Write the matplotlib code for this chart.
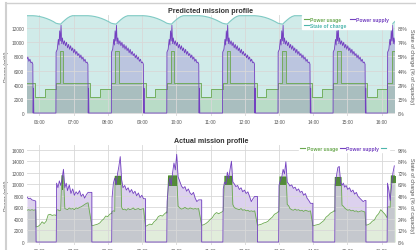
import numpy as np
import matplotlib
matplotlib.use("Agg")
import matplotlib.pyplot as plt
from matplotlib.lines import Line2D

plt.rcParams["font.family"] = ["Liberation Sans", "DejaVu Sans"]

# ---- x axis (hours of the day) ----
hour_ticks = [6, 7, 8, 9, 10, 11, 12, 13, 14, 15, 16]
hour_labels = ["06:00", "07:00", "08:00", "09:00", "10:00", "11:00",
               "12:00", "13:00", "14:00", "15:00", "16:00"]
x_range = (5.635, 16.39)

# ---- predicted mission profile: one orbit, repeated at each sunrise ----
pred_sunrise = [4.87, 6.48, 8.10, 9.72, 11.35, 12.97, 14.58, 16.17]

pred_sup_t = [0, 0.005, 0.04, 0.07, 0.09, 0.11, 0.13, 0.15, 0.17, 0.19, 0.22, 0.25,
              0.28, 0.31, 0.34, 0.37, 0.40, 0.43, 0.46, 0.49, 0.52, 0.55, 0.58, 0.61,
              0.64, 0.67, 0.70, 0.73, 0.76, 0.79, 0.82, 0.85, 0.88, 0.91, 0.935,
              0.945, 0.955, 0.965, 0.975]
pred_sup_v = [0, 8600, 9000, 10400, 9600, 11600, 10200, 12400, 9800, 10600, 9700, 10200,
              9500, 10000, 9200, 9700, 9000, 9500, 8800, 9200, 8500, 9000, 8300, 8700,
              8100, 8400, 7800, 8200, 7600, 7900, 7300, 7600, 7100, 7200, 6900,
              0, 3500, 0, 0]

pred_use_t = [0, 0, 0.12, 0.12, 0.22, 0.22, 1.0, 1.0, 1.28, 1.28]
pred_use_v = [3400, 4300, 4300, 8700, 8700, 4300, 4300, 2200, 2200, 3400]

pred_soc_t = [0, 0.07, 0.14, 0.20, 0.27, 0.34, 0.41, 0.48, 0.94, 1.04, 1.14,
              1.24, 1.34, 1.44, 1.54]
pred_soc_v = [12680, 12600, 12560, 12850, 13150, 13420, 13620, 13740, 13740, 13700, 13620,
              13500, 13340, 13140, 12900]

# ---- actual mission profile ----
act_sunrise = [6.49, 8.11, 9.72, 11.36, 12.99, 14.63, 16.16]
act_sunset = [7.53, 9.10, 10.74, 12.37, 13.99, 15.54]
first_sunset = 5.90

act_rel = [0.0, 0.01, 0.05, 0.09, 0.13, 0.17, 0.21, 0.25, 0.29, 0.33, 0.38,
           0.43, 0.48, 0.53, 0.58, 0.63, 0.68, 0.73, 0.78, 0.83, 0.88, 0.93]

act_sup_1 = [0, 10200, 9400, 10600, 9800, 10900, 12600, 9400, 10200, 8900, 9900,
             8400, 9200, 8100, 8700, 8300, 8900, 7900, 8300, 7600, 8200, 8600]
act_sup_2 = [0, 7600, 10200, 11100, 9900, 11800, 13100, 14800, 10800, 9400, 9800,
             9000, 9400, 8600, 9100, 8400, 8800, 8000, 8500, 7700, 8100, 7500]
act_sup_3 = [0, 7000, 9900, 11100, 9800, 12000, 13700, 12500, 15200, 11300, 10500,
             9700, 9300, 9600, 8800, 9200, 8500, 8200, 8600, 7600, 7000, 7300]
act_sup_4 = [0, 9200, 10400, 10000, 12100, 11000, 12600, 14000, 10400, 10100, 9600,
             9800, 9100, 9400, 8700, 9000, 8400, 8700, 7900, 7000, 7500, 7900]
act_sup_5 = [0, 9800, 10700, 11200, 12600, 11800, 13900, 10400, 10100, 9700, 9900,
             9300, 9500, 8900, 9200, 8600, 8800, 8100, 8400, 7600, 7200, 6700]
act_sup_6 = [0, 9900, 11500, 12900, 13100, 10400, 9800, 10200, 9500, 9800, 9100,
             9400, 8700, 9000, 8300, 8600, 7900, 7600, 7300, 7000, 7200]
act_sup_7 = [0, 10200, 9000, 7200, 9800, 12000, 13200]

act_use_1 = [4700, 5500, 5600, 5400, 5500, 5700, 5600, 5800, 5700, 5600, 5900,
             5700, 5800, 5600, 5900, 5800, 6000, 6100, 6300, 6500, 6700, 6800]
act_use_2 = [4900, 5300, 5400, 5300, 5500, 5400, 5500, 5600, 6000, 5600, 5700,
             5500, 5800, 5600, 5700, 5900, 5600, 5700, 5800, 5600, 5700, 5800]
act_use_3 = [5000, 5400, 5300, 5500, 5400, 5500, 5600, 5700, 5900, 6200, 5900,
             5700, 5800, 6000, 5800, 5700, 5900, 5800, 5700, 5800, 5700, 5800]
act_use_4 = [5300, 5500, 5600, 5500, 5600, 5700, 5600, 6700, 6500, 6000, 5800,
             5700, 5600, 5800, 5500, 5600, 5400, 5500, 5300, 5400, 5300, 5400]
act_use_5 = [5200, 5500, 5400, 5600, 5500, 5600, 5800, 6500, 6300, 5800, 5600,
             5500, 5700, 5500, 5600, 5400, 5500, 5300, 5500, 5400, 5300, 5400]
act_use_6 = [5300, 5600, 5500, 5700, 5600, 5800, 6400, 6200, 5900, 5700, 5500,
             5600, 5400, 5500, 5300, 5400, 5200, 5300, 5400, 5300, 5200]
act_use_7 = [4200, 6000, 6100, 6000, 6200, 6100, 6300]

# start of the chart, before the first eclipse
act_start_t = [5.635, 5.68, 5.73, 5.78, 5.83, 5.89]
act_start_sup = [7800, 7500, 7600, 7300, 7200, 7100]
act_start_use = [5500, 5600, 5500, 5600, 5500, 5600]

# eclipse power usage, evenly spread from sunset to the next sunrise
act_ecl_use = [
    [2600, 2700, 3000, 3500, 3200, 3600, 4700, 4800, 4600, 4700, 4600],
    [2800, 2900, 3000, 3100, 3300, 3700, 4000, 4500, 4400, 4800, 5000],
    [2700, 2900, 3100, 3000, 3500, 3800, 4400, 4600, 4500, 4900, 5200],
    [2900, 3000, 3200, 3500, 3900, 4200, 4800, 5100, 4900, 5100, 5300],
    [2900, 3000, 3100, 3300, 3400, 3600, 4000, 4300, 4800, 5000, 5300],
    [2800, 2900, 3000, 3100, 3400, 3700, 4300, 4600, 5000, 5200, 5500],
    [2900, 3000, 3200, 3600, 3800, 4500, 4900, 5600, 5200, 4800, 4200],
]

# payload bursts (relative start, relative end, low, high)
act_burst_start = [0.16, 0.10, 0.05, 0.05, 0.03, 0.01, 0.12]
act_burst_end = [0.21, 0.27, 0.29, 0.26, 0.22, 0.19, 0.25]
act_burst_low = [9000, 9800, 9700, 9900, 9800, 9700, 10200]
act_burst_high = [11500, 11400, 11500, 11400, 11300, 11200, 11500]

pct_pred = ["0%", "15%", "29%", "44%", "59%", "74%", "88%"]
pct_act = ["0%", "12%", "24%", "36%", "48%", "60%", "72%", "84%", "96%"]

c_use = "#6aa84f"
c_sup = "#7340c0"
c_soc = "#7fcac4"
c_burst = "#3f7f1f"


def tile_orbit(starts, rel_t, vals):
    t = np.concatenate([s + np.array(rel_t) for s in starts])
    v = np.tile(np.array(vals, dtype=float), len(starts))
    return t, v


def build_actual():
    sup_orbits = [act_sup_1, act_sup_2, act_sup_3, act_sup_4, act_sup_5, act_sup_6, act_sup_7]
    use_orbits = [act_use_1, act_use_2, act_use_3, act_use_4, act_use_5, act_use_6, act_use_7]
    ts, sv = list(act_start_t), list(act_start_sup)
    tu, uv = list(act_start_t), list(act_start_use)
    ts += [first_sunset]
    sv += [0]
    sunsets = [first_sunset] + act_sunset
    for k, s in enumerate(act_sunrise):
        # eclipse before this sunrise
        ecl_t = np.linspace(sunsets[k], s, len(act_ecl_use[k]))
        tu += list(ecl_t)
        uv += act_ecl_use[k]
        ts += [s]
        sv += [0]
        b0, b1 = s + act_burst_start[k], s + act_burst_end[k]
        for r, a, b in zip(act_rel, sup_orbits[k], use_orbits[k]):
            ts.append(s + r)
            sv.append(a)
            if not (b0 <= s + r <= b1):
                tu.append(s + r)
                uv.append(b)
        tu += [b0, b1]
        uv += [act_burst_high[k], act_burst_high[k]]
        order = np.argsort(tu, kind="stable")
        tu = list(np.array(tu)[order])
        uv = list(np.array(uv)[order])
        if k < len(act_sunset):
            ts += [act_sunset[k], act_sunset[k]]
            sv += [sv[-1], 0]
    return np.array(ts), np.array(sv, float), np.array(tu), np.array(uv, float)


def style_axes(ax, yticks, ylim, pct_labels, title):
    ax.set_xlim(*x_range)
    ax.set_ylim(*ylim)
    ax.set_xticks(hour_ticks)
    ax.set_xticklabels(hour_labels)
    ax.set_yticks(yticks)
    ax.set_yticklabels([str(v) for v in yticks])
    ax.tick_params(labelsize=3.4, colors="#555555", length=0, pad=2)
    ax.grid(True, color="#d8d8d8", linewidth=0.6)
    ax.set_axisbelow(False)
    for sp in ax.spines.values():
        sp.set_visible(False)
    ax.set_ylabel("Power (mW)", fontsize=4, color="#555555", labelpad=2)
    ax.set_title(title, fontsize=5.1, fontweight="bold", color="#333333", pad=2)
    ax_r = ax.twinx()
    ax_r.set_ylim(*ylim)
    ax_r.set_yticks(yticks)
    ax_r.set_yticklabels(pct_labels)
    ax_r.tick_params(labelsize=3.4, colors="#555555", length=0, pad=2)
    for sp in ax_r.spines.values():
        sp.set_visible(False)
    ax_r.set_ylabel("State of charge (% of capacity)", fontsize=4, color="#555555",
                    rotation=270, labelpad=5)


fig = plt.figure(figsize=(4.16, 2.51), dpi=100)
ax1 = fig.add_axes([27 / 416, 1 - 117 / 251, 368 / 416, 101 / 251])
ax2 = fig.add_axes([27 / 416, 1 - 246 / 251, 368 / 416, 100 / 251])

# predicted
t_soc, v_soc = tile_orbit(pred_sunrise, pred_soc_t, pred_soc_v)
t_sup, v_sup = tile_orbit(pred_sunrise, pred_sup_t, pred_sup_v)
t_use, v_use = tile_orbit(pred_sunrise, pred_use_t, pred_use_v)

ax1.fill_between(t_soc, 0, v_soc, color=c_soc, alpha=0.36, lw=0, zorder=1)
ax1.plot(t_soc, v_soc, color=c_soc, lw=0.8, zorder=3)
ax1.fill_between(t_sup, 0, v_sup, color="#7e57c2", alpha=0.25, lw=0, zorder=1.2)
ax1.fill_between(t_use, 0, v_use, color=c_use, alpha=0.22, lw=0, zorder=1.4)
ax1.plot(t_use, v_use, color=c_use, lw=0.6, zorder=3)
ax1.plot(t_sup, v_sup, color=c_sup, lw=0.6, zorder=3.2)
style_axes(ax1, list(range(0, 12001, 2000)), (-420, 13840), pct_pred,
           "Predicted mission profile")

h_use = Line2D([], [], color=c_use, lw=0.8)
h_sup = Line2D([], [], color=c_sup, lw=0.8)
h_soc = Line2D([], [], color="#4db6ac", lw=0.8)
leg1 = ax1.legend([h_use, h_soc, h_sup], ["Power usage", "State of charge", "Power supply"],
                  ncol=2, loc="upper right", bbox_to_anchor=(0.995, 1.02),
                  handlelength=1.0, handletextpad=0.3, columnspacing=0.6,
                  labelspacing=0.2, borderpad=0.3, frameon=True, fancybox=False,
                  framealpha=1, edgecolor="white", prop={"weight": "bold", "size": 3.6})
for txt, col in zip(leg1.get_texts(), [c_use, "#4db6ac", c_sup]):
    txt.set_color(col)
leg1.set_zorder(10)

# actual
a_ts, a_sv, a_tu, a_uv = build_actual()
ax2.fill_between(a_ts, 0, a_sv, color="#7e57c2", alpha=0.27, lw=0, zorder=1)
ax2.fill_between(a_tu, 0, a_uv, color=c_use, alpha=0.2, lw=0, zorder=1.2)
ax2.plot(a_tu, a_uv, color=c_use, lw=0.6, zorder=3)
ax2.plot(a_ts, a_sv, color=c_sup, lw=0.6, zorder=3.2)
for k, s in enumerate(act_sunrise):
    ax2.fill_between([s + act_burst_start[k], s + act_burst_end[k]],
                     act_burst_low[k], act_burst_high[k], color=c_burst, alpha=0.85,
                     lw=0, zorder=3.1)
style_axes(ax2, list(range(0, 16001, 2000)), (-520, 16810), pct_act,
           "Actual mission profile")
leg2 = ax2.legend([h_use, h_sup, h_soc], ["Power usage", "Power supply", ""],
                  ncol=3, loc="upper right", bbox_to_anchor=(0.99, 1.03),
                  handlelength=1.0, handletextpad=0.3, columnspacing=0.4,
                  borderpad=0.2, frameon=True, fancybox=False, framealpha=1,
                  edgecolor="white", prop={"weight": "bold", "size": 3.6})
for txt, col in zip(leg2.get_texts(), [c_use, c_sup, "#4db6ac"]):
    txt.set_color(col)
leg2.set_zorder(10)

# page frame
fig.add_artist(Line2D([6 / 416, 6 / 416], [0, 1 - 4 / 251], color="#d0d0d0", lw=1.5))
fig.add_artist(Line2D([6 / 416, 1], [1 - 4 / 251, 1 - 4 / 251], color="#d0d0d0", lw=1.0))

fig.savefig("out.png", dpi=100)
